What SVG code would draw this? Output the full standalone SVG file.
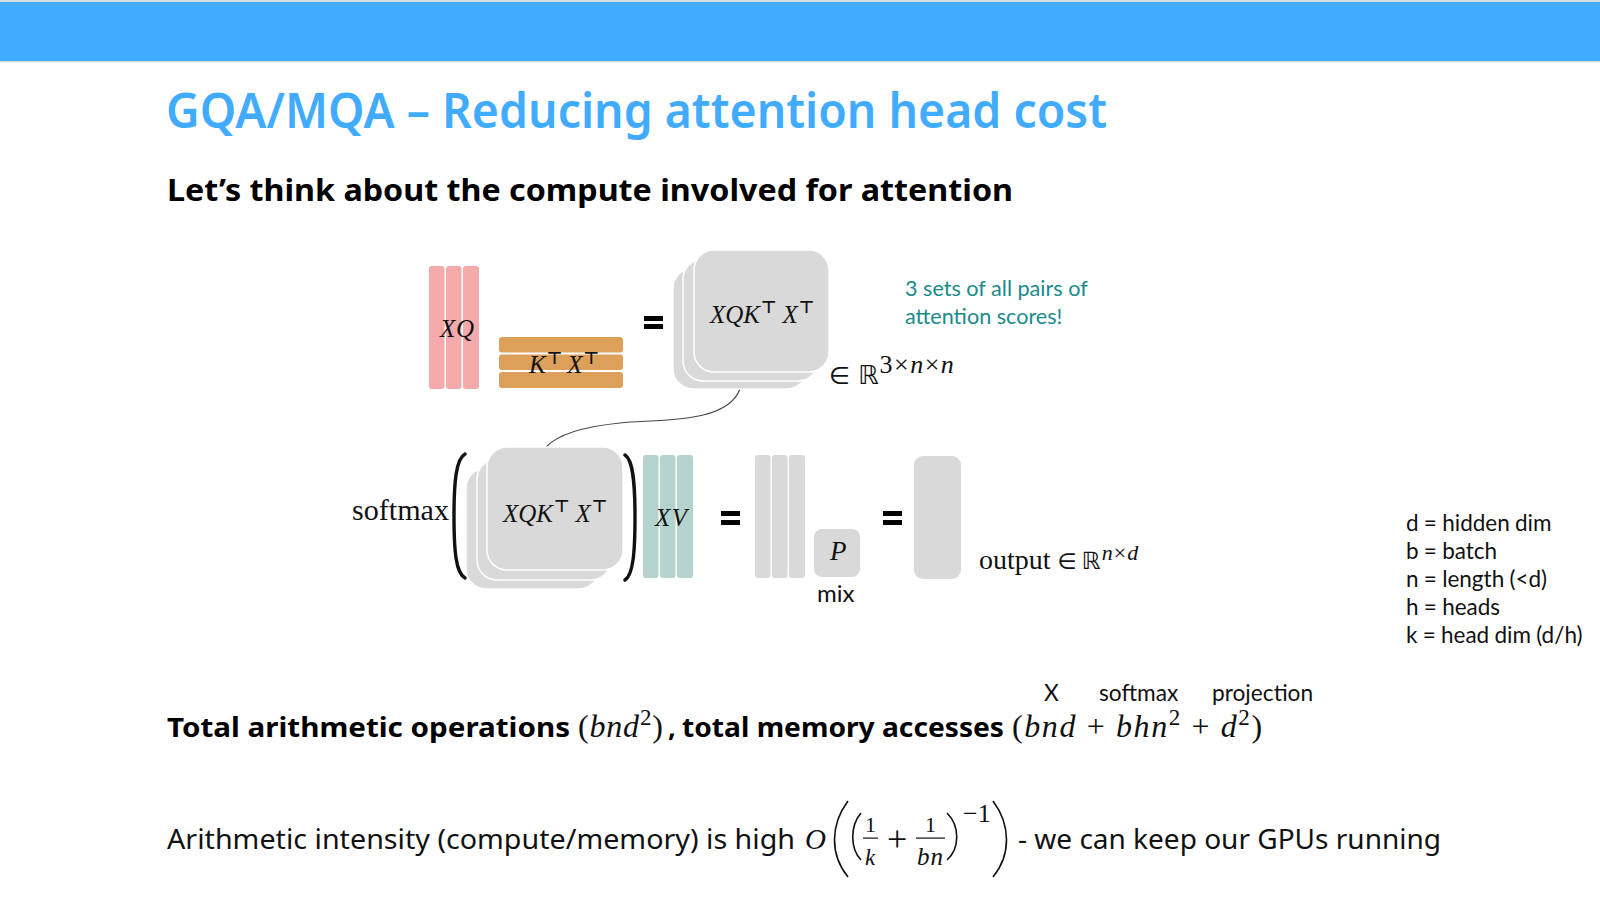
<svg xmlns="http://www.w3.org/2000/svg" width="1600" height="901" viewBox="0 0 1600 901">
<style>
.s{font-family:"Noto Sans","Open Sans",sans-serif}
.l{font-family:"Lato","Open Sans",sans-serif;fill:#111}
.m{font-family:"Liberation Serif","DejaVu Serif",serif;font-style:italic;fill:#111}
.u{font-family:"Liberation Serif","DejaVu Serif",serif;font-style:normal;fill:#111}
.d{font-family:"DejaVu Sans",sans-serif;font-style:normal}
.t{font-family:"DejaVu Sans",sans-serif;font-style:normal;font-weight:700;font-size:17px}
.b{font-weight:700}
.q{fill:#f4a9ab}.k{fill:#dca05a}.g{fill:#d9d9d9}.v{fill:#b5d3cd}
.st{fill:#d9d9d9;stroke:#fff;stroke-width:1.5}
.eq{fill:#000}
.br{fill:none;stroke:#111;stroke-width:3.4;stroke-linecap:round}
.bp{fill:none;stroke:#111;stroke-width:1.6}
</style>
<rect width="1600" height="901" fill="#fff"/>
<g id="header">
<rect width="1600" height="62.500" fill="#d5dde2"/>
<rect y="2" width="1600" height="59" fill="#41acff"/>
</g>
<text id="title" class="s" x="166" y="128" font-size="48" font-weight="600" fill="#41acff" textLength="941" lengthAdjust="spacingAndGlyphs">GQA/MQA – Reducing attention head cost</text>
<text id="subtitle" class="s b" x="167" y="201" font-size="31" fill="#000" textLength="846" lengthAdjust="spacingAndGlyphs">Let’s think about the compute involved for attention</text>
<g id="connectors">
<path d="M740 389C727 424 660 419 620 423C590 426 560 432 546 447" fill="none" stroke="#444" stroke-width="1.1"/>
</g>
<g id="node-xq">
<rect class="q" x="429" y="266" width="15.500" height="123" rx="3"/>
<rect class="q" x="446" y="266" width="15.500" height="123" rx="3"/>
<rect class="q" x="463" y="266" width="16" height="123" rx="3"/>
<text class="m" x="440" y="337" font-size="25" textLength="34">XQ</text>
</g>
<g id="node-kx">
<rect class="k" x="499" y="337" width="124" height="15.500" rx="3"/>
<rect class="k" x="499" y="354.500" width="124" height="15.500" rx="3"/>
<rect class="k" x="499" y="372" width="124" height="16" rx="3"/>
<text class="m" x="529" y="373" font-size="25">K<tspan class="t" dy="-9" dx="1">⊤</tspan><tspan dy="9" dx="5">X</tspan><tspan class="t" dy="-9" dx="1">⊤</tspan></text>
</g>
<g id="eq1" class="eq"><rect x="644" y="316" width="19" height="5"/><rect x="644" y="324" width="19" height="5"/></g>
<g id="node-scores">
<rect class="st" x="673" y="268" width="134" height="121" rx="20"/>
<rect class="st" x="683" y="259" width="135" height="122" rx="20"/>
<rect class="st" x="694" y="250" width="135" height="122" rx="20"/>
<text class="m" x="710" y="323" font-size="25">XQK<tspan class="t" dy="-10" dx="1">⊤</tspan><tspan dy="10" dx="6">X</tspan><tspan class="t" dy="-10" dx="1">⊤</tspan></text>
</g>
<text id="note" class="l" font-size="21.600" style="fill:#1a8a8c"><tspan x="905" y="296">3 sets of all pairs of</tspan><tspan x="905" y="324">attention scores!</tspan></text>
<text id="dim1" class="u" x="829" y="384" font-size="26"><tspan class="d" font-size="24">∈</tspan><tspan class="d" font-size="26" dx="8">ℝ</tspan><tspan font-size="26" dy="-11" dx="1" letter-spacing="1.500">3×</tspan><tspan font-size="26" class="m" letter-spacing="1.500">n</tspan><tspan font-size="26" letter-spacing="1.500">×</tspan><tspan font-size="26" class="m">n</tspan></text>
<text id="softmax" class="u" x="352" y="520" font-size="29" textLength="97" lengthAdjust="spacingAndGlyphs">softmax</text>
<g id="brackets">
<path class="br" d="M465 454C456 459 454 482 454 516C454 552 456 573 465 578"/>
<path class="br" d="M625 455C633 460 635 482 635 517C635 553 633 575 625 580"/>
</g>
<g id="node-scores2">
<rect class="st" x="466" y="468" width="133" height="121" rx="20"/>
<rect class="st" x="477" y="459" width="134" height="121" rx="20"/>
<rect class="st" x="487" y="447" width="136" height="123" rx="20"/>
<text class="m" x="503" y="522" font-size="25">XQK<tspan class="t" dy="-10" dx="1">⊤</tspan><tspan dy="10" dx="6">X</tspan><tspan class="t" dy="-10" dx="1">⊤</tspan></text>
</g>
<g id="node-xv">
<rect class="v" x="643" y="455" width="15.500" height="123" rx="3"/>
<rect class="v" x="660" y="455" width="15.500" height="123" rx="3"/>
<rect class="v" x="677" y="455" width="16" height="123" rx="3"/>
<text class="m" x="655" y="526" font-size="25" textLength="32">XV</text>
</g>
<g id="eq2" class="eq"><rect x="721" y="511" width="19" height="5"/><rect x="721" y="520" width="19" height="5"/></g>
<g id="node-heads">
<rect class="g" x="755" y="455" width="15.500" height="123" rx="3"/>
<rect class="g" x="772" y="455" width="15.500" height="123" rx="3"/>
<rect class="g" x="789" y="455" width="16" height="123" rx="3"/>
</g>
<g id="node-p">
<rect class="g" x="814" y="529" width="46" height="48" rx="8"/>
<text class="m" x="830" y="560" font-size="27">P</text>
</g>
<text id="mix" class="l" x="817" y="602" font-size="24">mix</text>
<g id="eq3" class="eq"><rect x="883" y="511" width="19" height="5"/><rect x="883" y="520" width="19" height="5"/></g>
<g id="node-output"><rect class="g" x="914" y="456" width="47" height="123" rx="9"/></g>
<text id="output" class="u" x="979" y="569" font-size="28">output <tspan class="d" font-size="22">∈</tspan><tspan class="d" font-size="24" dx="5">ℝ</tspan><tspan class="m" font-size="22" dy="-9" dx="1" letter-spacing="1">n</tspan><tspan class="u" font-size="22" letter-spacing="1">×</tspan><tspan class="m" font-size="22">d</tspan></text>
<text id="legend" class="l" font-size="22.500" word-spacing="-.5"><tspan x="1406" y="531">d = hidden dim</tspan><tspan x="1406" y="559">b = batch</tspan><tspan x="1406" y="587">n = length (&lt;d)</tspan><tspan x="1406" y="615">h = heads</tspan><tspan x="1406" y="643">k = head dim (d/h)</tspan></text>
<g id="labels" class="l" font-size="22.700">
<text x="1044" y="701">X</text>
<text x="1099" y="701">softmax</text>
<text x="1212" y="701">projection</text>
</g>
<g id="line1">
<text class="s b" x="167" y="737" font-size="27.500" fill="#000" textLength="403" lengthAdjust="spacingAndGlyphs">Total arithmetic operations</text>
<text class="u" x="578" y="737" font-size="32" letter-spacing=".8">(<tspan class="m">bnd</tspan><tspan font-size="23" dy="-12">2</tspan><tspan dy="12">)</tspan></text>
<text class="s b" x="668" y="737" font-size="27.500" fill="#000">,</text>
<text class="s b" x="682" y="737" font-size="27.500" fill="#000" textLength="322" lengthAdjust="spacingAndGlyphs">total memory accesses</text>
<text class="u" x="1012" y="737" font-size="32" letter-spacing="1.600">(<tspan class="m">bnd</tspan> + <tspan class="m">bhn</tspan><tspan font-size="23" dy="-12">2</tspan><tspan dy="12"> + </tspan><tspan class="m">d</tspan><tspan font-size="23" dy="-12">2</tspan><tspan dy="12">)</tspan></text>
</g>
<g id="line2">
<text class="s" x="167" y="849" font-size="27.500" fill="#111" textLength="628" lengthAdjust="spacingAndGlyphs">Arithmetic intensity (compute/memory) is high</text>
<text class="m" x="805" y="849" font-size="29">O</text>
<path class="bp" d="M848 801C830 825 830 855 848 877"/>
<path class="bp" d="M993 801C1011 825 1011 855 993 877"/>
<path class="bp" d="M861 813C850 826 850 848 861 860"/>
<path class="bp" d="M947 813C960 826 960 848 947 860"/>
<text class="u" x="865" y="832" font-size="22">1</text>
<rect x="863" y="837.500" width="15" height="1.200" fill="#111"/>
<text class="m" x="865" y="865" font-size="23">k</text>
<text class="u" x="887" y="851" font-size="36">+</text>
<text class="u" x="925" y="832" font-size="22">1</text>
<rect x="916" y="837.500" width="29" height="1.200" fill="#111"/>
<text class="m" x="917" y="865" font-size="25" letter-spacing="1">bn</text>
<text class="u" x="963" y="822" font-size="26">−1</text>
<text class="s" x="1018" y="849" font-size="27.500" fill="#111" textLength="423" lengthAdjust="spacingAndGlyphs">- we can keep our GPUs running</text>
</g>
</svg>
